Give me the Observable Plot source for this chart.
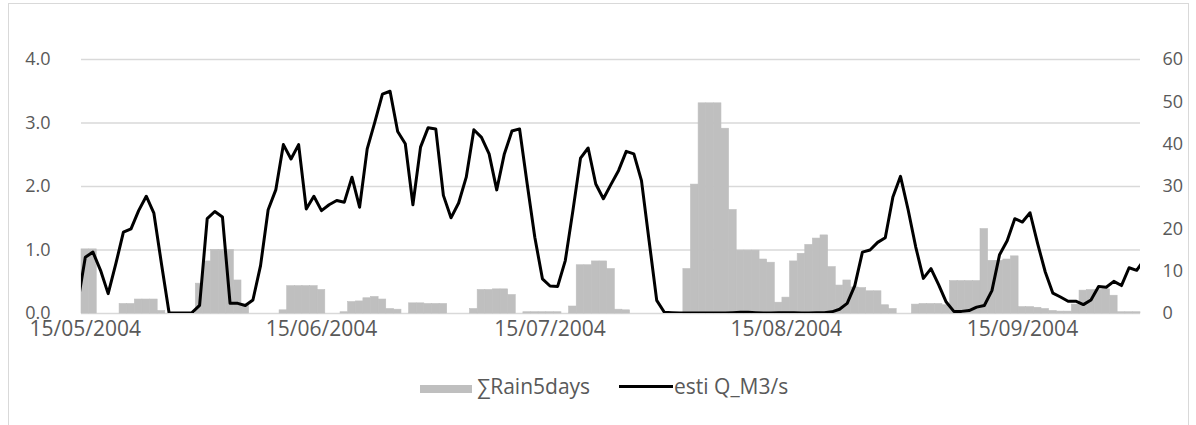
<!DOCTYPE html>
<html><head><meta charset="utf-8">
<script src="https://cdn.jsdelivr.net/npm/d3@7"></script>
<script src="https://cdn.jsdelivr.net/npm/@observablehq/plot@0.6"></script>
<style>
html,body{margin:0;padding:0;background:#fff;}
#wrap{position:relative;width:1196px;height:425px;overflow:hidden;font-family:"Open Sans",sans-serif;color:#595959;}
#frame{position:absolute;left:8px;top:3px;width:1181px;height:440px;border:1px solid #d9d9d9;box-sizing:border-box;}
#chart{position:absolute;left:0;top:0;}
.lg{position:absolute;font-size:21px;line-height:24px;white-space:nowrap;}
</style>
</head><body>
<div id="wrap">
  <div id="frame"></div>
  <div id="chart"></div>
  <div id="legend"></div>
</div>
<script>
// Daily series, first day 15/05/2004
const firstDay = "2004-05-15";
const lastDay = "2004-09-30";
const xTickLabels = ["15/05/2004", "15/06/2004", "15/07/2004", "15/08/2004", "15/09/2004"];
const leftTicks = [0, 1, 2, 3, 4];
const rightTicks = [0, 10, 20, 30, 40, 50, 60];
const seriesNames = ["∑Rain5days", "esti Q_M3/s"];

// ∑Rain5days, 15/05/2004 .. 30/09/2004 (139 days)
const rain5days = [
  1.01, 1.01, 0, 0, 0, 0.15, 0.15, 0.22, 0.22, 0.22,
  0.04, 0, 0, 0, 0, 0.47, 0.82, 1.0, 1.0, 1.0,
  0.52, 0.12, 0, 0, 0, 0, 0.05, 0.43, 0.43, 0.43,
  0.43, 0.37, 0, 0, 0.02, 0.18, 0.19, 0.24, 0.26, 0.22,
  0.07, 0.06, 0, 0.16, 0.16, 0.15, 0.15, 0.15, 0, 0,
  0, 0.07, 0.37, 0.37, 0.38, 0.38, 0.29, 0, 0.02, 0.02,
  0.02, 0.02, 0.02, 0, 0.11, 0.76, 0.76, 0.82, 0.82, 0.70,
  0.06, 0.05, 0, 0, 0, 0, 0, 0, 0, 0.70,
  2.03, 3.31, 3.31, 3.31, 2.91, 1.63, 0.99, 0.99, 0.99, 0.85,
  0.80, 0.17, 0.25, 0.82, 0.94, 1.08, 1.18, 1.23, 0.73, 0.44,
  0.52, 0.41, 0.40, 0.35, 0.35, 0.13, 0.07, 0, 0, 0.14,
  0.15, 0.15, 0.15, 0.13, 0.51, 0.51, 0.51, 0.51, 1.33, 0.83,
  0.83, 0.85, 0.90, 0.10, 0.10, 0.09, 0.07, 0.04, 0.03, 0.03,
  0.14, 0.36, 0.37, 0.37, 0.38, 0.28, 0.02, 0.02, 0.02
];

// esti Q_M3/s, 14/05/2004 .. 01/10/2004 (141 days; first and last fall outside the axis)
const flowStart = "2004-05-14";
const estiQ = [
  2.5,
  13.3, 14.5, 10.2, 4.7, 11.7, 19.2, 20.0, 24.3, 27.7, 23.7,
  11.7, 0.1, 0.1, 0.1, 0.2, 1.9, 22.4, 24.1, 22.8, 2.4,
  2.4, 1.9, 3.2, 11.3, 24.5, 29.2, 39.9, 36.5, 39.9, 24.7,
  27.7, 24.3, 25.7, 26.7, 26.3, 32.2, 25.1, 38.9, 45.2, 51.8,
  52.5, 43.0, 40.1, 25.7, 39.3, 43.9, 43.6, 27.9, 22.6, 26.1,
  32.2, 43.4, 41.6, 37.7, 29.2, 37.7, 43.1, 43.6, 30.6, 18.0,
  8.2, 6.5, 6.4, 12.5, 24.3, 36.7, 39.1, 30.6, 27.1, 30.5,
  33.8, 38.3, 37.7, 31.4, 17.2, 3.1, 0.3, 0.2, 0.1, 0.1,
  0.1, 0.1, 0.1, 0.1, 0.1, 0.2, 0.3, 0.3, 0.2, 0.1,
  0.1, 0.2, 0.2, 0.2, 0.1, 0.1, 0.2, 0.2, 0.4, 1.0,
  2.4, 6.6, 14.5, 15.0, 16.8, 17.9, 27.5, 32.4, 24.5, 15.7,
  8.3, 10.6, 6.8, 2.7, 0.5, 0.5, 0.7, 1.5, 1.9, 5.4,
  13.9, 17.2, 22.4, 21.6, 23.8, 16.5, 9.8, 4.8, 3.9, 2.9,
  2.9, 2.1, 3.2, 6.4, 6.2, 7.6, 6.6, 10.8, 10.2, 12.8
];

const DAY = 86400000;
const noon = s => new Date(Date.parse(s + "T12:00:00Z"));
const rainData = rain5days.map((v, i) => ({date: new Date(+noon(firstDay) + i * DAY), v}));
const flowData = estiQ.map((q, i) => ({date: new Date(+noon(flowStart) + i * DAY), q}));
const parseLabel = s => { const [d, m, y] = s.split("/"); return noon(`${y}-${m}-${d}`); };
const xTicks = xTickLabels.map(parseLabel);
const qScale = 60 / 4; // right axis 0..60 shares the left axis 0..4 frame

const chart = Plot.plot({
  width: 1196,
  height: 350,
  marginLeft: 81,
  marginRight: 56,
  marginTop: 59,
  marginBottom: 37,
  style: {fontFamily: "'Open Sans', sans-serif", fontSize: "18px", color: "#595959", background: "transparent"},
  x: {type: "utc", domain: [new Date(Date.parse(firstDay + "T00:00:00Z")), new Date(Date.parse(lastDay + "T00:00:00Z") + DAY)]},
  y: {domain: [0, 4]},
  marks: [
    Plot.ruleY(leftTicks, {stroke: "#d9d9d9", strokeWidth: 1.3}),
    Plot.rectY(rainData, {
      x1: d => new Date(+d.date - DAY / 2),
      x2: d => new Date(+d.date + DAY / 2),
      y: "v",
      fill: "#bfbfbf",
      stroke: "#bfbfbf",
      strokeWidth: 0.6
    }),
    Plot.line(flowData, {x: "date", y: d => d.q / qScale, stroke: "#000", strokeWidth: 3, strokeLinejoin: "round", clip: true}),
    Plot.axisY(leftTicks, {anchor: "left", tickSize: 0, tickPadding: 31, tickFormat: d => d.toFixed(1), label: null}),
    Plot.axisY(rightTicks.map(q => q / qScale), {anchor: "right", tickSize: 0, tickPadding: 22, tickFormat: d => String(Math.round(d * qScale)), label: null}),
    Plot.axisX(xTicks, {tickSize: 0, tickPadding: 8, fontSize: 21, tickFormat: (d, i) => xTickLabels[i], label: null})
  ]
});
document.getElementById("chart").appendChild(chart);

// Legend below the plot
const legend = document.getElementById("legend");
legend.innerHTML = `
  <div style="position:absolute;left:420px;top:385px;width:52px;height:8px;background:#bfbfbf"></div>
  <div class="lg" style="left:477px;top:374px">${seriesNames[0]}</div>
  <div style="position:absolute;left:619px;top:385px;width:54px;height:3px;background:#000"></div>
  <div class="lg" style="left:674px;top:374px">${seriesNames[1]}</div>
`;
</script>
</body></html>
